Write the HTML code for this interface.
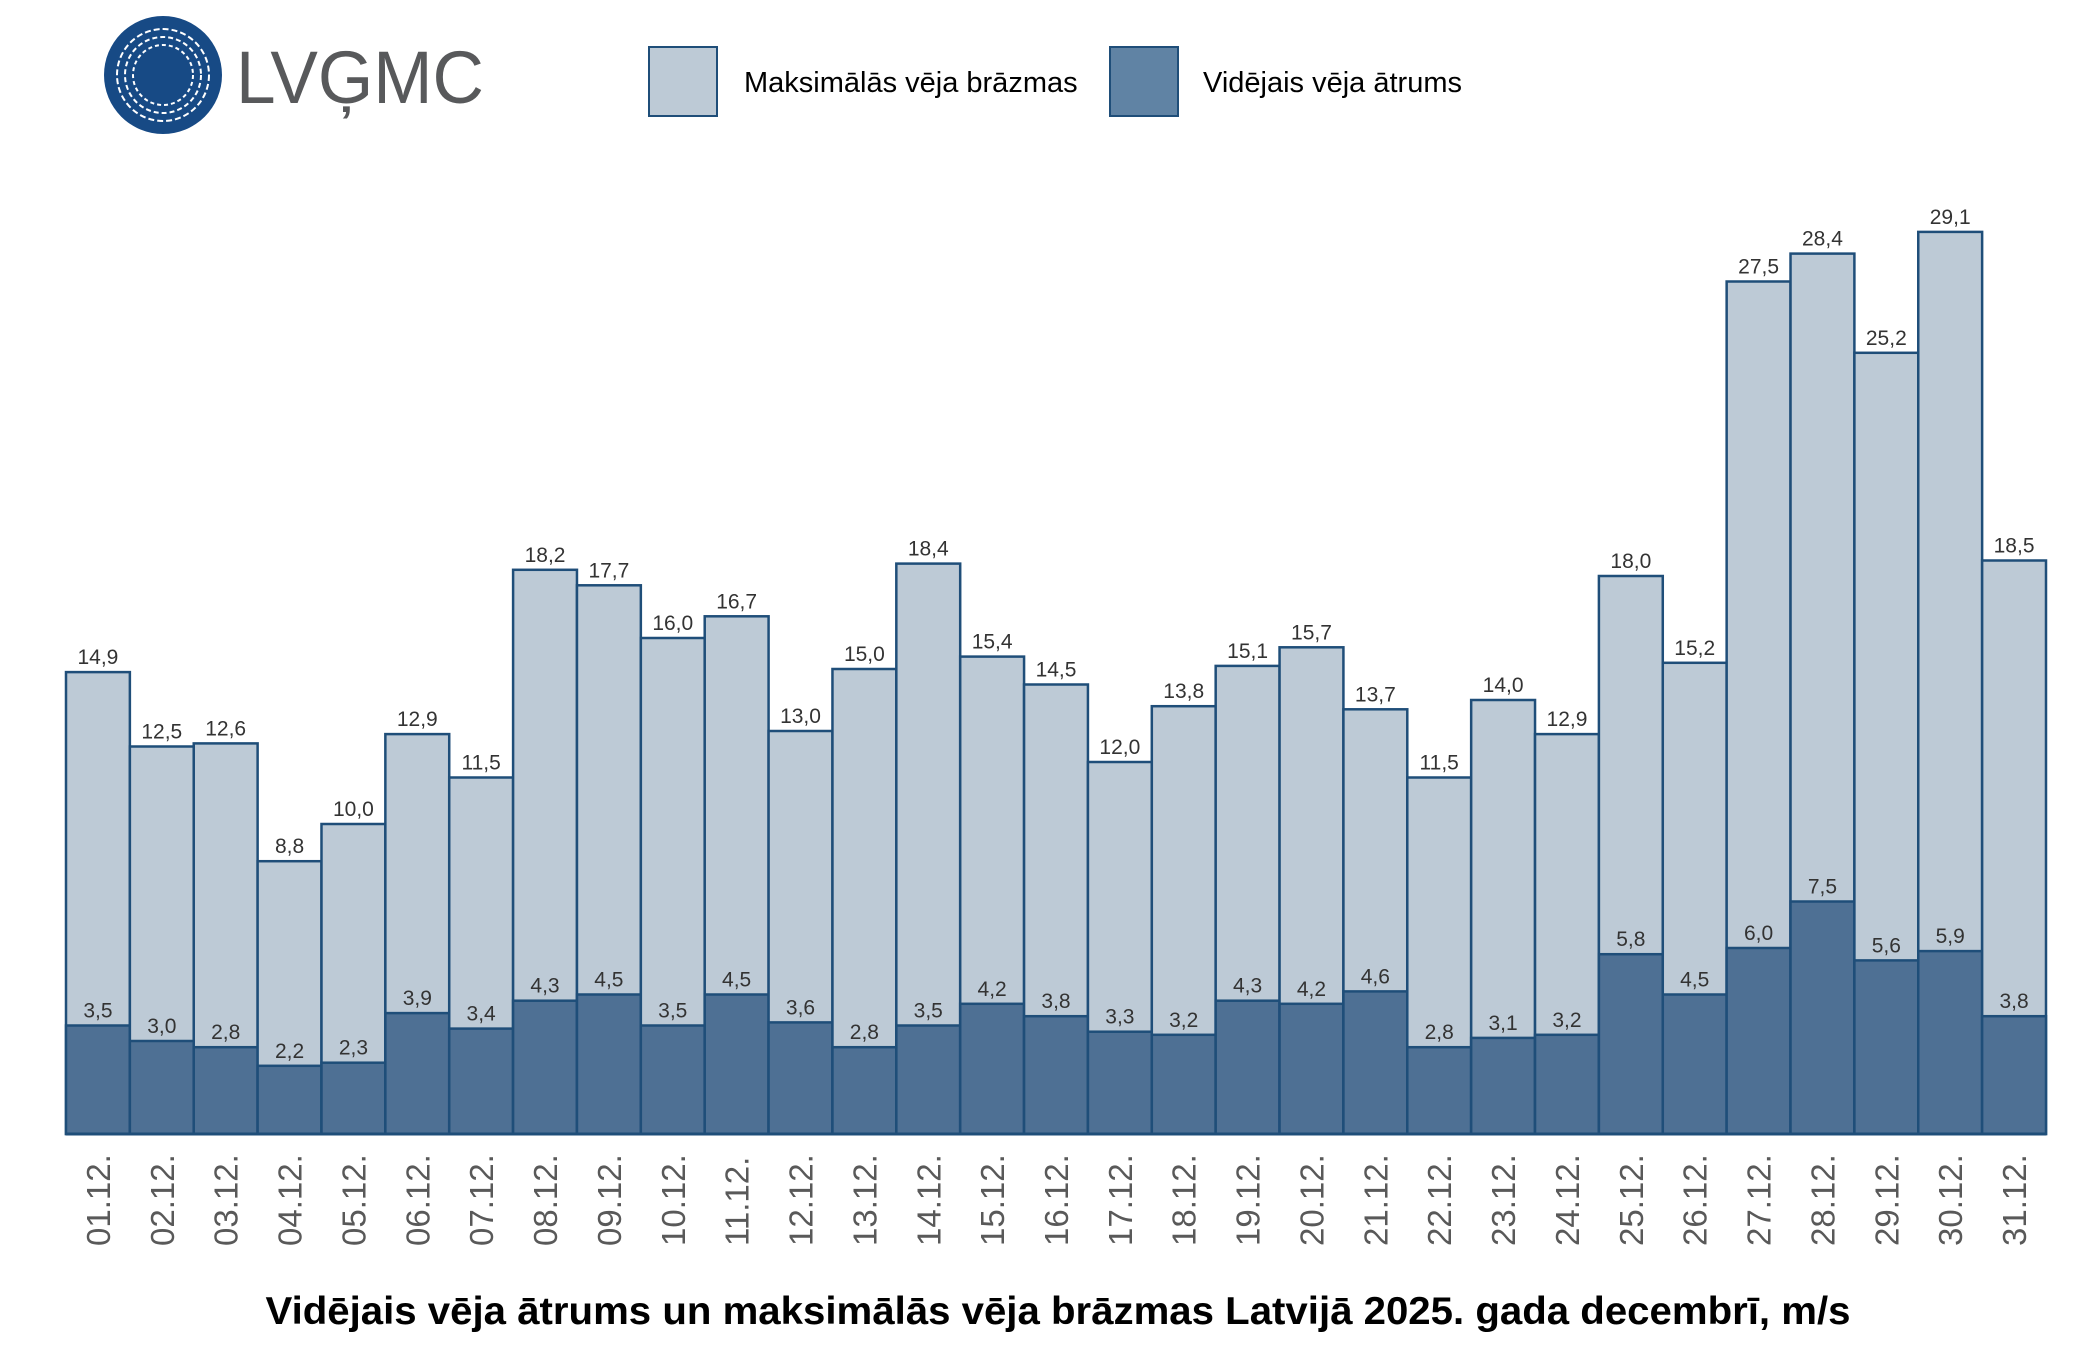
<!DOCTYPE html>
<html><head><meta charset="utf-8"><style>
body{margin:0;background:#fff;}
svg{display:block;font-family:"Liberation Sans","DejaVu Sans",sans-serif;}
</style></head><body>
<svg id="chart" width="2100" height="1350" viewBox="0 0 2100 1350">
  <g>
    <circle cx="163" cy="75" r="59" fill="#174A85"/>
    <circle cx="163" cy="75" r="46" fill="none" stroke="#fff" stroke-width="2" stroke-dasharray="6 3"/>
    <circle cx="163" cy="75" r="38" fill="none" stroke="#fff" stroke-width="2" stroke-dasharray="5 3"/>
    <circle cx="163" cy="75" r="30" fill="none" stroke="#fff" stroke-width="2" stroke-dasharray="4 3"/>
    <text x="236" y="103" font-size="74" fill="#58595B" textLength="248" lengthAdjust="spacingAndGlyphs">LVĢMC</text>
  </g>
  <g>
    <rect x="649" y="47" width="68" height="69" fill="#BDCAD6" stroke="#1F4E79" stroke-width="2"/>
    <text x="744" y="92" font-size="29" fill="#000">Maksimālās vēja brāzmas</text>
    <rect x="1110" y="47" width="68" height="69" fill="#6083A4" stroke="#1F4E79" stroke-width="2"/>
    <text x="1203" y="92" font-size="29" fill="#000">Vidējais vēja ātrums</text>
  </g>
  <g id="plot"></g>
  <text x="1058" y="1324" text-anchor="middle" font-size="39" font-weight="bold" fill="#000" textLength="1585" lengthAdjust="spacingAndGlyphs">Vidējais vēja ātrums un maksimālās vēja brāzmas Latvijā 2025. gada decembrī, m/s</text>
</svg>
<script>
const categories = ["01.12.","02.12.","03.12.","04.12.","05.12.","06.12.","07.12.","08.12.","09.12.","10.12.","11.12.","12.12.","13.12.","14.12.","15.12.","16.12.","17.12.","18.12.","19.12.","20.12.","21.12.","22.12.","23.12.","24.12.","25.12.","26.12.","27.12.","28.12.","29.12.","30.12.","31.12."];
const maxGusts = [14.9,12.5,12.6,8.8,10.0,12.9,11.5,18.2,17.7,16.0,16.7,13.0,15.0,18.4,15.4,14.5,12.0,13.8,15.1,15.7,13.7,11.5,14.0,12.9,18.0,15.2,27.5,28.4,25.2,29.1,18.5];
const avgSpeed = [3.5,3.0,2.8,2.2,2.3,3.9,3.4,4.3,4.5,3.5,4.5,3.6,2.8,3.5,4.2,3.8,3.3,3.2,4.3,4.2,4.6,2.8,3.1,3.2,5.8,4.5,6.0,7.5,5.6,5.9,3.8];

const NS = "http://www.w3.org/2000/svg";
const plot = document.getElementById('plot');
const X0 = 66, X1 = 2046, BASE = 1134, PPU = 31.0;
const bw = (X1 - X0) / categories.length;
function xPos(i){ return X0 + i * bw; }
function yPos(v){ return BASE - v * PPU; }
function fmt(v){ return v.toFixed(1).replace('.', ','); }
function mk(tag, attrs){ const e = document.createElementNS(NS, tag); for (const k in attrs) e.setAttribute(k, attrs[k]); plot.appendChild(e); return e; }

categories.forEach((c, i) => {
  const x = xPos(i);
  const r1 = mk('rect', {x:x, y:yPos(maxGusts[i]), width:bw, height:BASE-yPos(maxGusts[i]), fill:'#BDCAD6', stroke:'#1F4E79', 'stroke-width':2.5});
  
  
  const r2 = mk('rect', {x:x, y:yPos(avgSpeed[i]), width:bw, height:BASE-yPos(avgSpeed[i]), fill:'#4E7094', stroke:'#1F4E79', 'stroke-width':2.5});
  
  
  const t1 = mk('text', {x:x+bw/2, y:yPos(maxGusts[i])-8, 'text-anchor':'middle', 'font-size':21, fill:'#333'});
  t1.textContent = fmt(maxGusts[i]);
  
  
  const t2 = mk('text', {x:x+bw/2, y:yPos(avgSpeed[i])-8, 'text-anchor':'middle', 'font-size':21, fill:'#333'});
  t2.textContent = fmt(avgSpeed[i]);
  
  
  const cx = x + bw/2 + 12;
  const tl = mk('text', {x:cx, y:1246, transform:'rotate(-90 ' + cx + ' 1246)', 'font-size':33, fill:'#595959'});
  tl.textContent = c;
  
  
});
const ax = mk('line', {x1:X0, x2:X1, y1:BASE, y2:BASE, stroke:'#1F4E79', 'stroke-width':3});


</script>
</body></html>
